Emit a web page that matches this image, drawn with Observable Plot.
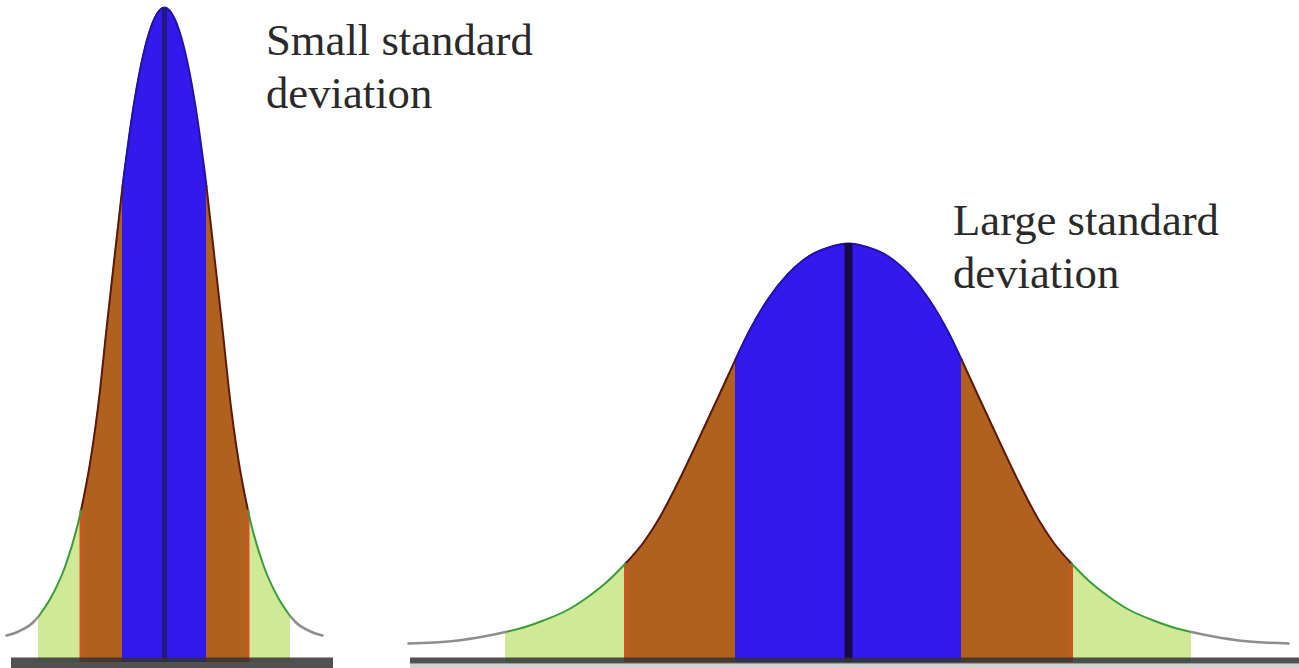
<!DOCTYPE html>
<html><head><meta charset="utf-8">
<script src="https://cdn.jsdelivr.net/npm/d3@7"></script>
<script src="https://cdn.jsdelivr.net/npm/@observablehq/plot@0.6"></script>
<style>html,body{margin:0;padding:0;background:#fff;overflow:hidden}</style>
</head><body><div id="chart"></div>
<script>
// Two bell curves (arbitrary units)
const curveNames = ["Small standard deviation", "Large standard deviation"];
const means = [16.4, 84.8];
// half-widths of the 1 SD, 2 SD and 3 SD bands
const bandEdges = [[4.2, 8.35, 12.6], [11.3, 22.3, 34.3]];
// half-profile: distance from the mean and curve height
const smallOffsets = [0, 0.5, 1.0, 1.5, 2.0, 2.5, 3.0, 3.5, 4.0, 4.2, 5.0, 5.85, 6.45, 6.9, 7.45, 8.1, 8.35, 8.7, 9.9, 11.35, 12.6, 13.15, 14.6, 15.8];
const smallHeights = [65.5, 65.2, 64.4, 63.1, 61.3, 59.0, 56.2, 52.9, 49.2, 47.6, 40.5, 32.9, 27.2, 23.6, 19.9, 16.4, 15.2, 13.7, 9.7, 6.5, 4.6, 4.0, 3.1, 2.7];
const largeOffsets = [0, 2, 4, 6, 8, 10, 11.3, 13, 15, 17, 19, 20.5, 22.3, 24, 26, 28, 30.5, 32.5, 34.3, 36.5, 39.5, 44];
const largeHeights = [41.9, 41.5, 40.6, 38.9, 36.4, 33.0, 30.3, 26.6, 22.3, 18.1, 14.3, 12.0, 9.9, 8.2, 6.6, 5.3, 4.2, 3.5, 3.05, 2.6, 2.15, 1.9];
const baselineSpans = [[1.1, 33.3], [41.0, 129.9]];
const labels = ["Small standard\ndeviation", "Large standard\ndeviation"];
const bandColors = ["#3419ee", "#b0601f", "#cfe997"];
const edgeColors = ["#2014a8", "#5a1a0a", "#3c9c3c"];

function buildCurve(k, offsets, heights) {
  const rows = [];
  for (let i = offsets.length - 1; i > 0; i--) rows.push({curve: k, side: -1, w: offsets[i], x: means[k] - offsets[i], y: heights[i]});
  for (let i = 0; i < offsets.length; i++) rows.push({curve: k, side: 1, w: offsets[i], x: means[k] + offsets[i], y: heights[i]});
  return rows;
}
const curves = [buildCurve(0, smallOffsets, smallHeights), buildCurve(1, largeOffsets, largeHeights)];
const interp = "monotone-x";

const marks = [];
curves.forEach((rows, k) => {
  const e = bandEdges[k];
  // fills: widest band first, narrower on top
  for (let b = 2; b >= 0; b--) {
    marks.push(Plot.areaY(rows.filter(r => r.w <= e[b]), {x: "x", y: "y", fill: bandColors[b], curve: interp}));
  }
  // thin reddish strip at the 2 SD boundary
  marks.push(Plot.ruleX(rows.filter(r => r.w === e[1]), {x: "x", y1: 0, y2: "y", stroke: "#cc5522", strokeWidth: 3}));
  // outline segments
  marks.push(Plot.line(rows.filter(r => r.w <= e[0]), {x: "x", y: "y", stroke: edgeColors[0], strokeWidth: 2, curve: interp}));
  for (let b = 1; b <= 2; b++) {
    marks.push(Plot.line(rows.filter(r => r.w >= e[b - 1] && r.w <= e[b]), {x: "x", y: "y", z: "side", stroke: edgeColors[b], strokeWidth: 2, curve: interp}));
  }
  marks.push(Plot.line(rows.filter(r => r.w >= e[2]), {x: "x", y: "y", z: "side", stroke: "#8e8e8e", strokeWidth: 2.5, curve: interp}));
});

// mean lines
marks.push(Plot.ruleX([0], {x: () => means[0], y1: 0, y2: smallHeights[0], stroke: "#221880", strokeWidth: 5}));
marks.push(Plot.ruleX([1], {x: () => means[1], y1: 0, y2: largeHeights[0], stroke: "#140c48", strokeWidth: 8}));

// baselines
marks.push(Plot.ruleY([baselineSpans[1]], {y: 0, x1: d => d[0], x2: d => d[1], stroke: "#d2d2d2", strokeWidth: 5, dy: 3.5}));
marks.push(Plot.ruleY([baselineSpans[0]], {y: 0, x1: d => d[0], x2: d => d[1], stroke: "#333", strokeOpacity: 0.85, strokeWidth: 11, dy: 0.5}));
marks.push(Plot.ruleY([baselineSpans[1]], {y: 0, x1: d => d[0], x2: d => d[1], stroke: "#333", strokeOpacity: 0.85, strokeWidth: 6, dy: -2}));

// labels
marks.push(Plot.text(labels, {
  x: [26.55, 95.25], y: [64.47, 46.47], text: d => d,
  textAnchor: "start", lineAnchor: "top", lineHeight: 1.186,
  fontSize: 44.7, fontFamily: "Liberation Serif", fill: "#2a2a2a"
}));

const chart = Plot.plot({
  width: 1299, height: 668, margin: 0,
  x: {domain: [0, 129.9], range: [0, 1299], axis: null},
  y: {domain: [0, 66.2], range: [662, 0], axis: null},
  style: {background: "#fff", overflow: "visible"},
  marks
});
document.getElementById("chart").appendChild(chart);
</script>
</body></html>
